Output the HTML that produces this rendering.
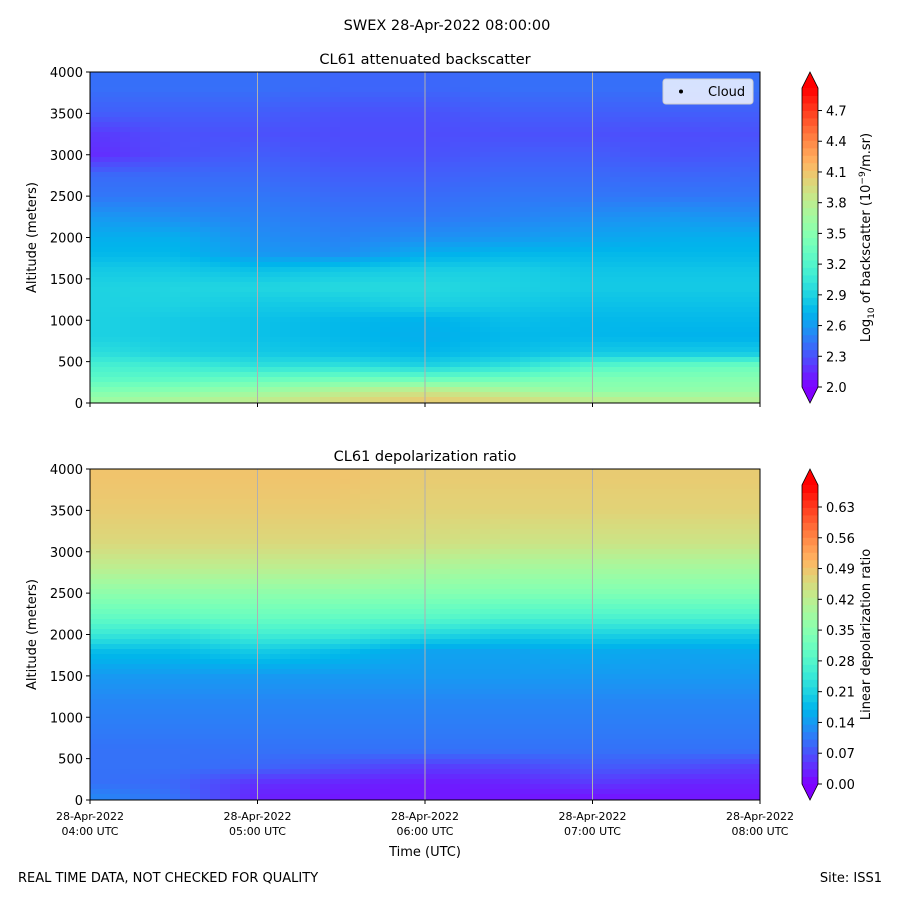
<!DOCTYPE html>
<html><head><meta charset="utf-8">
<style>
body{margin:0;background:#fff;}
svg text{font-family:"DejaVu Sans","Liberation Sans",sans-serif;fill:#000;}
</style></head>
<body>
<svg id="fig" width="900" height="900" viewBox="0 0 900 900" xmlns="http://www.w3.org/2000/svg">
<rect width="900" height="900" fill="#fff"/>
<text x="447" y="30" font-size="14.5" text-anchor="middle">SWEX 28-Apr-2022 08:00:00</text>
<text x="425" y="64" font-size="14.5" text-anchor="middle">CL61 attenuated backscatter</text>
<text x="425" y="461" font-size="14.5" text-anchor="middle">CL61 depolarization ratio</text>
<g id="top"></g>
<g id="bot"></g>
<text x="425" y="856" font-size="13" text-anchor="middle">Time (UTC)</text>
<text x="18" y="882" font-size="13">REAL TIME DATA, NOT CHECKED FOR QUALITY</text>
<text x="882" y="882" font-size="13" text-anchor="end">Site: ISS1</text>
</svg>
<script>
const NS="http://www.w3.org/2000/svg";
const times=[4,4.5,5,5.5,6,6.5,7,7.5,8];
const bsAlt=[50,150,300,450,600,800,1000,1200,1400,1600,1800,2000,2250,2500,2750,3000,3250,3500,3800];
const bsVals=[
[3.6,3.7,3.8,3.95,4.05,3.95,3.8,3.75,3.75],
[3.45,3.5,3.6,3.75,3.85,3.7,3.55,3.55,3.6],
[3.25,3.25,3.3,3.35,3.3,3.35,3.45,3.45,3.5],
[3.15,3.1,3.0,3.0,2.9,3.0,3.2,3.3,3.35],
[3.0,2.9,2.85,2.8,2.75,2.8,2.85,2.85,2.85],
[2.9,2.85,2.8,2.75,2.7,2.75,2.75,2.72,2.72],
[2.9,2.85,2.8,2.75,2.72,2.78,2.75,2.75,2.75],
[2.9,2.9,2.85,2.85,2.9,2.85,2.8,2.8,2.8],
[2.9,2.92,2.92,2.95,2.95,2.9,2.85,2.85,2.85],
[2.85,2.85,2.8,2.85,2.88,2.88,2.82,2.82,2.82],
[2.75,2.75,2.6,2.55,2.7,2.75,2.75,2.75,2.75],
[2.7,2.7,2.55,2.5,2.55,2.6,2.65,2.7,2.7],
[2.6,2.55,2.5,2.45,2.45,2.5,2.55,2.6,2.55],
[2.45,2.45,2.45,2.4,2.4,2.45,2.45,2.45,2.45],
[2.4,2.4,2.4,2.35,2.35,2.4,2.4,2.38,2.4],
[2.15,2.3,2.35,2.3,2.3,2.35,2.35,2.3,2.35],
[2.2,2.3,2.3,2.28,2.28,2.3,2.3,2.28,2.3],
[2.35,2.35,2.35,2.3,2.3,2.35,2.35,2.35,2.35],
[2.42,2.42,2.42,2.38,2.38,2.42,2.42,2.42,2.42]];
const dpAlt=[50,200,400,600,900,1200,1500,1800,2000,2200,2500,2800,3100,3500,3900];
const dpVals=[
[0.12,0.1,0.03,0.02,0.02,0.02,0.02,0.02,0.02],
[0.1,0.09,0.04,0.03,0.02,0.03,0.05,0.03,0.03],
[0.1,0.1,0.09,0.07,0.05,0.06,0.08,0.07,0.05],
[0.1,0.1,0.1,0.1,0.1,0.1,0.1,0.1,0.1],
[0.11,0.11,0.11,0.11,0.11,0.11,0.11,0.11,0.11],
[0.12,0.12,0.12,0.12,0.12,0.12,0.12,0.12,0.12],
[0.14,0.14,0.14,0.14,0.14,0.14,0.14,0.14,0.14],
[0.18,0.18,0.2,0.18,0.15,0.15,0.16,0.15,0.16],
[0.25,0.23,0.26,0.25,0.22,0.2,0.21,0.2,0.2],
[0.3,0.3,0.31,0.3,0.29,0.27,0.27,0.27,0.27],
[0.36,0.36,0.36,0.36,0.35,0.34,0.34,0.34,0.34],
[0.42,0.42,0.42,0.42,0.4,0.39,0.39,0.39,0.39],
[0.46,0.46,0.46,0.46,0.45,0.44,0.44,0.44,0.44],
[0.48,0.48,0.48,0.48,0.47,0.47,0.47,0.47,0.47],
[0.49,0.49,0.49,0.49,0.48,0.48,0.48,0.48,0.48]];
const yTicks=[0,500,1000,1500,2000,2500,3000,3500,4000];
const xTickHours=[4,5,6,7,8];
const xTickTimes=["04:00 UTC","05:00 UTC","06:00 UTC","07:00 UTC","08:00 UTC"];
const bsCbTicks=["2.0","2.3","2.6","2.9","3.2","3.5","3.8","4.1","4.4","4.7"];
const dpCbTicks=["0.00","0.07","0.14","0.21","0.28","0.35","0.42","0.49","0.56","0.63"];

const X0=90,X1=760;
function xs(h){return X0+(h-4)/4*(X1-X0);}
function mk(tag,a,p){const e=document.createElementNS(NS,tag);for(const k in a)e.setAttribute(k,a[k]);p.appendChild(e);return e;}
function rainbow(t){t=Math.max(0,Math.min(1,t));
 const r=Math.min(1,Math.abs(2*t-0.5)),g=Math.sin(Math.PI*t),b=Math.cos(Math.PI*t/2);
 return `rgb(${Math.round(r*255)},${Math.round(g*255)},${Math.round(b*255)})`;}
function sample(alts,vals,alt,h){
 let i=0;while(i<alts.length-2&&alt>alts[i+1])i++;
 let fa=(alt-alts[i])/(alts[i+1]-alts[i]);fa=Math.max(0,Math.min(1,fa));
 let tf=(h-4)/0.5;let j=Math.min(times.length-2,Math.max(0,Math.floor(tf)));let ft=Math.max(0,Math.min(1,tf-j));
 const a=vals[i][j]*(1-ft)+vals[i][j+1]*ft, b=vals[i+1][j]*(1-ft)+vals[i+1][j+1]*ft;
 return a*(1-fa)+b*fa;}
function panel(g,Y0,Y1,alts,vals,vmin,vmax,cbTicks,cbLabel,legend){
 const ys=a=>Y1-a/4000*(Y1-Y0);
 const cw=10,ch=5;
 const hm=mk('g',{},g);
 
 
 for(let px=X0;px<X1;px+=cw){for(let py=Y0;py<Y1;py+=ch){
  const h=4+(px+cw/2-X0)/(X1-X0)*4;const alt=(Y1-(py+ch/2))/(Y1-Y0)*4000;
  const v=sample(alts,vals,alt,h);
  const r=mk('rect',{x:px,y:py,width:Math.min(cw,X1-px)+0.5,height:Math.min(ch,Y1-py)+0.5,fill:rainbow((v-vmin)/(vmax-vmin))},hm);
  
  
 }}
 [5,6,7].forEach(hh=>{const l=mk('line',{x1:xs(hh),x2:xs(hh),y1:Y0,y2:Y1,stroke:'#b0b0b0','stroke-width':1},g);
  
  });
 const fr=mk('rect',{x:X0,y:Y0,width:X1-X0,height:Y1-Y0,fill:'none',stroke:'#000','stroke-width':1},g);
 
 
 yTicks.forEach(t=>{const y=ys(t);mk('line',{x1:X0-4,x2:X0,y1:y,y2:y,stroke:'#000'},g);
  const tx=mk('text',{x:X0-7,y:y+5,'font-size':13,'text-anchor':'end'},g);tx.textContent=t;
  
  });
 xTickHours.forEach(h=>mk('line',{x1:xs(h),x2:xs(h),y1:Y1,y2:Y1+4,stroke:'#000'},g));
 const yl=mk('text',{x:0,y:0,'font-size':13,'text-anchor':'middle',transform:`translate(36,${(Y0+Y1)/2}) rotate(-90)`},g);
 yl.textContent='Altitude (meters)';
 
 
 const cx0=802,cx1=818,ct=Y0+16,cb=Y1-16;
 const cbg=mk('g',{},g);
 
 
 const n=40;
 for(let k=0;k<n;k++){const y=cb-(k+1)*(cb-ct)/n;mk('rect',{x:cx0,y:y,width:cx1-cx0,height:(cb-ct)/n+0.5,fill:rainbow((k+0.5)/n)},cbg);}
 mk('polygon',{points:`${cx0},${ct} ${cx1},${ct} ${(cx0+cx1)/2},${Y0}`,fill:rainbow(1)},cbg);
 mk('polygon',{points:`${cx0},${cb} ${cx1},${cb} ${(cx0+cx1)/2},${Y1}`,fill:rainbow(0)},cbg);
 mk('polygon',{points:`${(cx0+cx1)/2},${Y0} ${cx1},${ct} ${cx1},${cb} ${(cx0+cx1)/2},${Y1} ${cx0},${cb} ${cx0},${ct}`,fill:'none',stroke:'#000','stroke-width':0.8},cbg);
 cbTicks.forEach(s=>{const v=parseFloat(s);const y=cb-(v-vmin)/(vmax-vmin)*(cb-ct);
  mk('line',{x1:cx1,x2:cx1+4,y1:y,y2:y,stroke:'#000'},cbg);
  const tx=mk('text',{x:cx1+8,y:y+5,'font-size':13},cbg);tx.textContent=s;
  
  });
 const cl=mk('text',{x:0,y:0,'font-size':13,'text-anchor':'middle',transform:`translate(870,${(Y0+Y1)/2}) rotate(-90)`},g);
 cl.innerHTML=cbLabel;
 
 
 if(legend){const lg=mk('g',{},g);
  
  
  mk('rect',{x:663,y:79,width:90,height:25,rx:3,fill:'rgba(255,255,255,0.8)',stroke:'#ccc'},lg);
  mk('circle',{cx:681,cy:91.5,r:2,fill:'#000'},lg);
  const t=mk('text',{x:708,y:96,'font-size':13},lg);t.textContent='Cloud';
  
  }
 return ys;}
panel(document.getElementById('top'),72,403,bsAlt,bsVals,2.0,4.92,bsCbTicks,
 'Log<tspan font-size="9" dy="4">10</tspan><tspan dy="-4"> of backscatter (10</tspan><tspan font-size="9" dy="-5">−9</tspan><tspan dy="5">/m.sr)</tspan>',true);
panel(document.getElementById('bot'),469,800,dpAlt,dpVals,0,0.68,dpCbTicks,'Linear depolarization ratio',false);
const svg=document.getElementById('fig');
xTickHours.forEach((h,i)=>{
 const t1=mk('text',{x:xs(h),y:820,'font-size':11,'text-anchor':'middle'},svg);t1.textContent='28-Apr-2022';
 
 
 const t2=mk('text',{x:xs(h),y:835,'font-size':11,'text-anchor':'middle'},svg);t2.textContent=xTickTimes[i];
 
 });
</script>
</body></html>
